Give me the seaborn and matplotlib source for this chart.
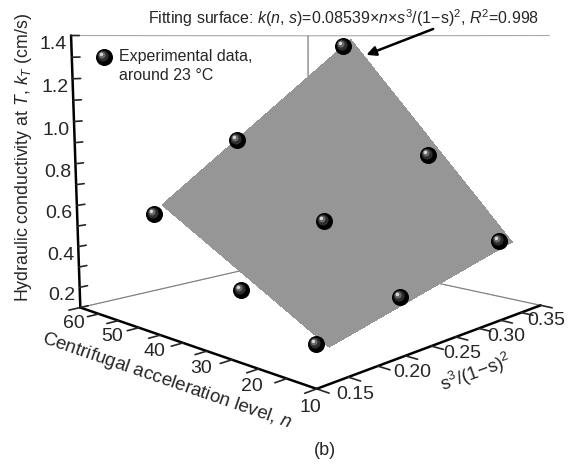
import matplotlib
matplotlib.use('Agg')
import matplotlib.pyplot as plt
import seaborn as sns
import numpy as np
from matplotlib.path import Path
from matplotlib.lines import Line2D
from matplotlib.ticker import MultipleLocator
from matplotlib.legend_handler import HandlerTuple
from mpl_toolkits.mplot3d import proj3d

# experimental points (roughly a 3 x 3 grid of n and s-term)
accel_levels = [16.2, 16.4, 16.4, 30.4, 32.4, 30.4, 49.6, 48.4, 47.9]
s_terms = [0.154, 0.230, 0.34, 0.154, 0.238, 0.34, 0.154, 0.2245, 0.3335]
k_values = [0.18, 0.266, 0.40, 0.32, 0.529, 0.79, 0.573, 0.887, 1.345]

# fitted surface k = c * n * s^3/(1-s)^2 and the n range it is drawn over
fit_coef = 0.08539
surf_n = [14, 47.5]

s_ticks = [0.15, 0.20, 0.25, 0.30, 0.35]
n_ticks = [10, 20, 30, 40, 50, 60]
k_ticks = [0.2, 0.4, 0.6, 0.8, 1.0, 1.2, 1.4]


def sphere_layer(cx, cy, r):
    # marker path offset from centre; the lone MOVETO keeps the marker scale
    anchor = Path([[0.5, 0.5]], [Path.MOVETO])
    blob = Path.circle((cx, cy), r)
    return Path.make_compound_path(anchor, blob)


def main():
    sns.set_style('white')
    plt.rcParams['font.family'] = ['Liberation Sans', 'DejaVu Sans']
    plt.rcParams['mathtext.fontset'] = 'custom'
    plt.rcParams['mathtext.rm'] = 'Liberation Sans'
    plt.rcParams['mathtext.it'] = 'Liberation Sans:italic'

    fig = plt.figure(figsize=(5.81, 4.66), dpi=100)
    ax = fig.add_axes([0.026, 0.155, 1.0, 0.92], projection='3d', computed_zorder=False)
    ax.set_proj_type('persp', focal_length=0.42)
    ax.view_init(elev=8, azim=-136)
    ax.set_box_aspect((1.25, 1.25, 1.03), zoom=1.23)
    ax.set_xlim(0.125, 0.35)
    ax.set_ylim(10, 60)
    ax.set_zlim(0.1, 1.4)

    ss, nn = np.meshgrid(np.linspace(min(s_terms), max(s_terms), 25),
                         np.linspace(surf_n[0], surf_n[1], 25))
    kk = fit_coef * nn * ss
    ax.plot_surface(ss, nn, kk, color='#969696', shade=False, linewidth=0,
                    antialiased=False, zorder=1)

    # black spheres: a dark disc plus offset highlight layers
    size = 150
    base = ax.scatter(s_terms, accel_levels, k_values, s=size, c='black',
                      depthshade=False, zorder=3, linewidths=0)
    layers = [base]
    for (cx, cy, r, col) in [(-0.08, 0.08, 0.32, '#2e2e2e'),
                             (-0.14, 0.14, 0.2, '#6a6a6a'),
                             (-0.18, 0.18, 0.1, '#d8d8d8')]:
        lay = ax.scatter(s_terms, accel_levels, k_values, s=size, c=col,
                         marker=sphere_layer(cx, cy, r), depthshade=False,
                         zorder=4, linewidths=0)
        layers.append(lay)

    for axis in (ax.xaxis, ax.yaxis, ax.zaxis):
        axis.pane.fill = False
        axis.pane.set_edgecolor('#555555')
        axis.pane.set_linewidth(0.8)
        axis.line.set_linewidth(1.8)
        axis.line.set_color('black')
        axis._axinfo['tick']['linewidth'] = {True: 1.2, False: 1.2}
        axis._axinfo['tick']['color'] = 'black'
    ax.grid(False)

    for axis in (ax.xaxis, ax.yaxis):
        axis._axinfo['tick']['inward_factor'] = 0.5
        axis._axinfo['tick']['outward_factor'] = 0.0
    ax.zaxis._axinfo['tick']['inward_factor'] = 0.0
    ax.zaxis._axinfo['tick']['outward_factor'] = 0.35

    ax.set_xticks(s_ticks)
    ax.set_xticklabels(['%.2f' % t for t in s_ticks])
    ax.set_yticks(n_ticks)
    ax.set_zticks(k_ticks)
    ax.set_zticklabels(['%.1f' % t for t in k_ticks])
    ax.xaxis.set_minor_locator(MultipleLocator(0.025))
    ax.yaxis.set_minor_locator(MultipleLocator(5))
    ax.zaxis.set_minor_locator(MultipleLocator(0.1))
    ax.tick_params(labelsize=14)
    ax.xaxis.set_tick_params(pad=-4.5)
    ax.yaxis.set_tick_params(pad=-4.5)
    ax.zaxis.set_tick_params(pad=-2)

    fig.text(0.040, 0.663, 'Hydraulic conductivity at $T$, $k_T$ (cm/s)', rotation=90,
             ha='center', va='center', fontsize=12.8)
    fig.text(0.287, 0.182, 'Centrifugal acceleration level, $n$', rotation=-19,
             ha='center', va='center', fontsize=13.5, rotation_mode='anchor')
    fig.text(0.82, 0.2, 's$^3$/(1\u2212s)$^2$', rotation=20,
             ha='center', va='center', fontsize=13.5, rotation_mode='anchor')

    marker_handle = tuple(layers)
    blank = Line2D([], [], linestyle='none')
    fig.legend([marker_handle, blank], ['Experimental data,', 'around 23 \u00b0C'],
               handler_map={tuple: HandlerTuple(ndivide=1)},
               loc='upper left', bbox_to_anchor=(0.152, 0.909), frameon=False,
               fontsize=11.5, handletextpad=0.3, handlelength=1.2, borderaxespad=0,
               labelspacing=0.25)

    # arrow from the fit equation to the upper edge of the surface
    tip_n = 44.5
    tx, ty, _ = proj3d.proj_transform(max(s_terms), tip_n, fit_coef * tip_n * max(s_terms), ax.get_proj())
    ax.annotate('', xy=(tx, ty), xycoords='data',
                xytext=(0.750, 0.94), textcoords='figure fraction',
                arrowprops=dict(arrowstyle='-|>', color='black', lw=1.8, mutation_scale=14))
    fig.text(0.592, 0.962, 'Fitting surface: $k$($n$, $s$)=0.08539\u00d7$n$\u00d7$s^3$/(1\u2212s)$^2$, $R^2$=0.998',
             ha='center', va='center', fontsize=11.5)
    fig.text(0.559, 0.034, '(b)', ha='center', va='center', fontsize=13)

    fig.savefig('out.png', dpi=100)


if __name__ == '__main__':
    main()
